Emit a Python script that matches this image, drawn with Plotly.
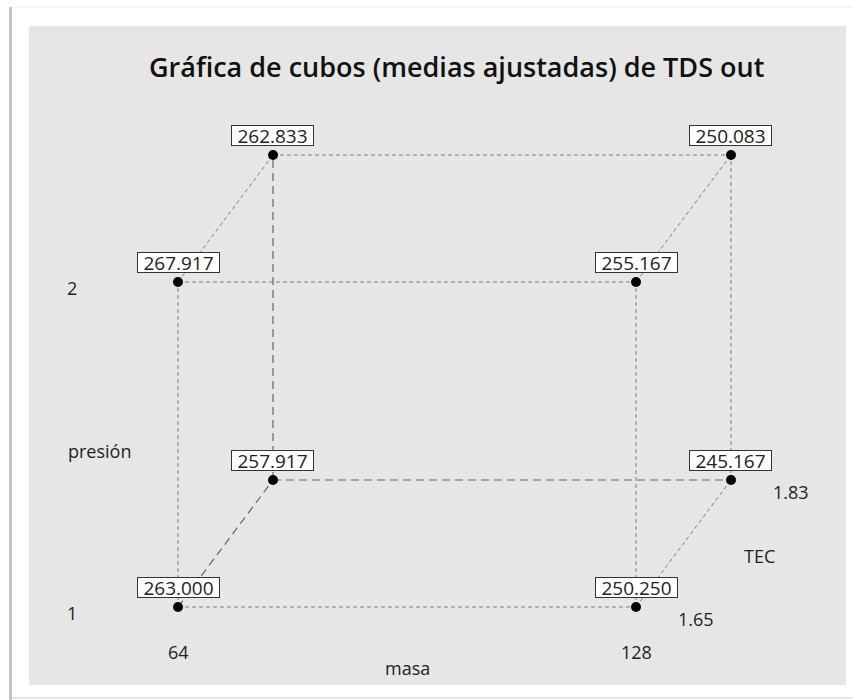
import plotly.graph_objects as go

# ---- data ----
masa_levels = [64, 128]
presion_levels = [1, 2]
tec_levels = [1.65, 1.83]

masa = [64, 128, 64, 128, 64, 128, 64, 128]
presion = [1, 1, 2, 2, 1, 1, 2, 2]
tec = [1.65, 1.65, 1.65, 1.65, 1.83, 1.83, 1.83, 1.83]
media = [263.000, 250.250, 267.917, 255.167, 257.917, 245.167, 262.833, 250.083]

title = "Gráfica de cubos (medias ajustadas) de TDS out"
x_name, y_name, z_name = "masa", "presión", "TEC"

# ---- projection (oblique cube) ----
DX, DY = 0.2074, 0.3908


def proj(m, p, t):
    i = masa_levels.index(m)
    j = presion_levels.index(p)
    k = tec_levels.index(t)
    return i + DX * k, j + DY * k


pts = [proj(m, p, t) for m, p, t in zip(masa, presion, tec)]
corners = list(zip(masa, presion, tec))
hidden = (masa_levels[0], presion_levels[0], tec_levels[1])

fig = go.Figure()

# edges
for a in range(len(corners)):
    for b in range(a + 1, len(corners)):
        diff = sum(1 for u, v in zip(corners[a], corners[b]) if u != v)
        if diff != 1:
            continue
        is_hidden = hidden in (corners[a], corners[b])
        fig.add_trace(go.Scatter(
            x=[pts[a][0], pts[b][0]], y=[pts[a][1], pts[b][1]],
            mode="lines", hoverinfo="skip", showlegend=False,
            line=dict(color="#666666" if is_hidden else "#7e7e7e",
                      width=1.2 if is_hidden else 1,
                      dash="8px,5px" if is_hidden else "4px,3px"),
        ))

# points
fig.add_trace(go.Scatter(
    x=[p[0] for p in pts], y=[p[1] for p in pts], mode="markers",
    marker=dict(color="black", size=10), showlegend=False,
    text=[f"{v:.3f}" for v in media], hoverinfo="text",
))

ann = []
for (px, py), v in zip(pts, media):
    ann.append(dict(
        x=px, y=py, xref="x", yref="y", text=f"{v:.3f}", showarrow=False,
        yanchor="bottom", yshift=9, width=81, height=19,
        bgcolor="white", bordercolor="#333333", borderwidth=1, borderpad=0,
        font=dict(family="Open Sans", size=19, color="#222222"),
    ))

lab_font = dict(family="Open Sans", size=18, color="#222222")
# presión levels
for lvl in presion_levels:
    _, py = proj(masa_levels[0], lvl, tec_levels[0])
    ann.append(dict(x=-0.231, y=py, xref="x", yref="y", text=str(lvl),
                    showarrow=False, yshift=-6, font=lab_font))
ann.append(dict(x=-0.171, y=0.5, xref="x", yref="y", text=y_name,
                showarrow=False, yshift=-6, font=lab_font))
# masa levels
for lvl in masa_levels:
    px, py = proj(lvl, presion_levels[0], tec_levels[0])
    ann.append(dict(x=px, y=py, xref="x", yref="y", text=str(lvl),
                    showarrow=False, yshift=-45, font=lab_font))
ann.append(dict(x=0.5, y=0, xref="x", yref="y", text=x_name,
                showarrow=False, yshift=-61, font=lab_font))
# TEC levels
for lvl in tec_levels:
    px, py = proj(masa_levels[1], presion_levels[0], lvl)
    ann.append(dict(x=px, y=py, xref="x", yref="y", text=str(lvl),
                    showarrow=False, xshift=60, yshift=-12, font=lab_font))
ann.append(dict(x=1 + DX / 2, y=DY / 2, xref="x", yref="y", text=z_name,
                showarrow=False, xshift=76, yshift=-12, font=lab_font))

ann.append(dict(x=456 / 853, y=1 - 46 / 700, xref="paper", yref="paper",
                text=title, showarrow=False,
                font=dict(family="Open Sans", size=27, color="#111111", weight=600)))

shapes = [
    # outer frame shadow
    dict(type="line", xref="paper", yref="paper", x0=10.5 / 853, x1=10.5 / 853,
         y0=1 - 7 / 700, y1=0, line=dict(color="#c4c4c4", width=3)),
    dict(type="line", xref="paper", yref="paper", x0=12 / 853, x1=1,
         y0=1 - 7 / 700, y1=1 - 7 / 700, line=dict(color="#ececec", width=1)),
    dict(type="line", xref="paper", yref="paper", x0=12 / 853, x1=1,
         y0=1 - 698 / 700, y1=1 - 698 / 700, line=dict(color="#e6e6e6", width=2)),
    # gray panel
    dict(type="rect", xref="paper", yref="paper", layer="below",
         x0=29 / 853, x1=846 / 853, y0=1 - 685 / 700, y1=1 - 26 / 700,
         fillcolor="#e6e6e6", line=dict(width=0)),
]

fig.update_layout(
    width=853, height=700, margin=dict(l=0, r=0, t=0, b=0),
    paper_bgcolor="white", plot_bgcolor="rgba(0,0,0,0)",
    xaxis=dict(range=[-178 / 458, 675 / 458], visible=False, fixedrange=True),
    yaxis=dict(range=[-93 / 325, 1 + 282 / 325], visible=False, fixedrange=True),
    annotations=ann, shapes=shapes,
)

fig.write_html("out.html")
